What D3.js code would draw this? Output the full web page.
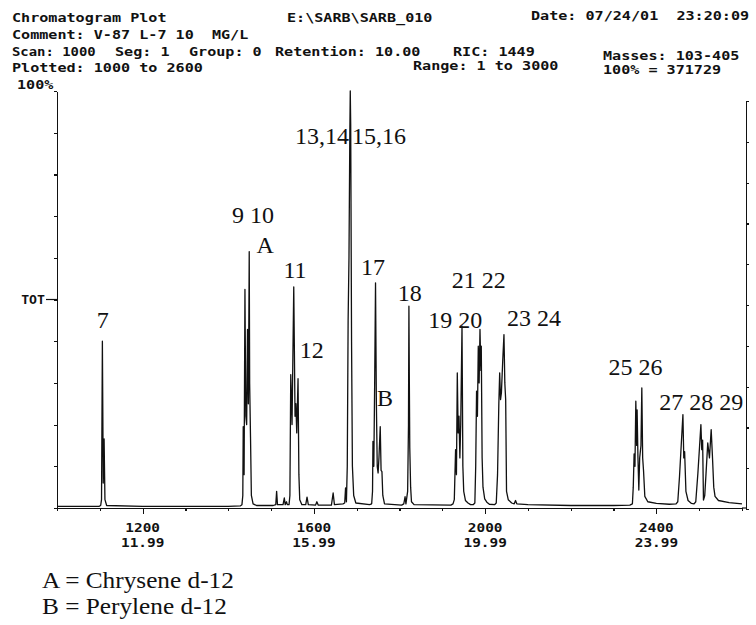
<!DOCTYPE html>
<html>
<head>
<meta charset="utf-8">
<script src="https://cdn.jsdelivr.net/npm/d3@7"></script>
<style>
body { margin: 0; background: #fff; }
.mono { font-family: "DejaVu Sans Mono", monospace; font-weight: bold; font-size: 12px; fill: #111; white-space: pre; }
.lbl { font-family: "Liberation Serif", "Times New Roman", serif; font-size: 24px; fill: #111; }
.axis path, .axis line { stroke: #111; stroke-width: 1.2; shape-rendering: crispEdges; }
</style>
</head>
<body>
<svg id="chart" width="756" height="625"></svg>
<script>
// Total ion trace: [scan number, % of full scale]
var trace = [
	[1000, 0.4], [1050, 0.4], [1098, 0.4],
	[1102, 0.6], [1104, 2], [1106, 40], [1108, 6], [1110, 16.6], [1112, 2], [1116, 0.6],
	[1200, 0.4], [1300, 0.4], [1400, 0.4], [1428, 0.5],
	[1432, 0.8], [1434, 3], [1435, 19.5], [1437, 8], [1439, 52.4], [1441, 22], [1443, 20],
	[1445, 42.8], [1447, 25], [1449, 61.5], [1450, 30], [1452, 17], [1454, 3], [1458, 1], [1466, 0.6],
	[1505, 0.6], [1511, 0.8], [1513, 4], [1515, 0.8],
	[1528, 0.8], [1531, 2.4], [1533, 0.8], [1536, 1.5], [1538, 0.8],
	[1542, 0.8], [1544, 3], [1546, 32], [1549, 20], [1553, 53], [1556, 22], [1558, 25], [1560, 18],
	[1563, 31], [1565, 8], [1567, 2], [1572, 0.8],
	[1581, 0.8], [1584, 2.6], [1587, 0.8],
	[1604, 0.7], [1607, 1.5], [1610, 0.7],
	[1641, 0.7], [1645, 3.6], [1648, 0.8],
	[1668, 1], [1672, 1.2], [1674, 4.8], [1676, 1.5],
	[1678, 10], [1680, 45], [1682, 60], [1684, 90], [1685, 100], [1686, 92], [1688, 40], [1690, 10], [1693, 3], [1698, 1.2],
	[1730, 0.8],
	[1735, 1], [1737, 4], [1738, 16], [1740, 10], [1742, 30], [1744, 54], [1746, 25], [1748, 10], [1750, 8.4],
	[1752, 12], [1755, 19.5], [1757, 9], [1759, 8.7], [1761, 3], [1765, 1],
	[1805, 0.7],
	[1810, 1], [1813, 2.7], [1815, 1], [1819, 4], [1821, 20], [1822, 48.4], [1823, 30], [1824, 14.5], [1826, 5], [1828, 1.5], [1834, 0.8],
	[1920, 0.7],
	[1925, 1], [1928, 2], [1931, 14], [1933, 8], [1935, 32.4], [1937, 18], [1939, 22], [1941, 12], [1943, 20],
	[1946, 43.6], [1948, 10], [1950, 4], [1954, 1.8], [1960, 1.2], [1966, 0.8],
	[1972, 0.8], [1976, 1.2], [1978, 10], [1980, 28], [1982, 22], [1984, 38.8], [1986, 30], [1988, 42.8], [1990, 33],
	[1991, 38.8], [1993, 12], [1995, 5], [1999, 2.2], [2004, 1.4], [2010, 0.9],
	[2022, 0.8], [2026, 1.2], [2029, 8], [2032, 25], [2034, 32.4], [2036, 26], [2038, 27.6], [2041, 35], [2044, 41.6],
	[2046, 30], [2048, 26], [2050, 4], [2054, 2], [2062, 1.2], [2068, 1], [2071, 1.8], [2074, 1],
	[2100, 0.8], [2200, 0.6], [2300, 0.6], [2338, 0.7],
	[2344, 1], [2346, 5], [2348, 13], [2350, 10], [2352, 25.6], [2354, 15], [2355, 23.5], [2357, 12], [2359, 4.3],
	[2361, 12], [2364, 15], [2366, 28.8], [2368, 12], [2370, 9], [2373, 2.8], [2380, 1.5], [2400, 1.1], [2430, 0.9],
	[2446, 1], [2450, 1.5], [2454, 7.5], [2458, 15], [2462, 22.4], [2464, 12], [2466, 13.5], [2469, 4], [2474, 1.8], [2482, 1.1],
	[2488, 1], [2492, 1.5], [2497, 8.4], [2501, 15], [2504, 20], [2506, 14], [2508, 16.3], [2510, 1.9], [2513, 3],
	[2516, 8.3], [2520, 15.6], [2524, 12], [2528, 18.8], [2531, 12.3], [2534, 5], [2537, 2.8], [2545, 1.8],
	[2570, 1.3], [2600, 1]
];

// Peak numbers written on the plot: [text, scan, %, anchor]
var peakLabels = [
	["7", 1107, 45.2, "middle"],
	["9 10", 1458, 70.4, "middle"],
	["A", 1486, 63.2, "middle"],
	["11", 1556, 57.2, "middle"],
	["12", 1595, 38, "middle"],
	["13,14", 1682, 89.4, "end"],
	["15,16", 1689, 89.4, "start"],
	["17", 1738, 58, "middle"],
	["B", 1766, 26.4, "middle"],
	["18", 1824, 51.7, "middle"],
	["19 20", 1930, 45.2, "middle"],
	["21 22", 1985, 54.8, "middle"],
	["23 24", 2114, 45.7, "middle"],
	["25 26", 2351, 33.9, "middle"],
	["27 28 29", 2505, 25.5, "middle"]
];

// Axis ticks
var minorTicks = d3.range(1000, 2601, 100);
var scanLabels = [1200, 1600, 2000, 2400];
var timeLabels = ["11.99", "15.99", "19.99", "23.99"];
var pctTicks = d3.range(0, 101, 10);

var legendLines = ["A = Chrysene d-12", "B = Perylene d-12"];

var svg = d3.select("#chart");

var x = d3.scaleLinear().domain([1000, 2600]).range([57, 742]);
var y = d3.scaleLinear().domain([0, 100]).range([508, 91]);
// the right frame edge has its own, slightly shorter ruler
var yRight = d3.scaleLinear().domain([0, 100]).range([509, 101]);

// Header of the printout (wide pixel font, so stretch it a bit):
function mono(text, px, py, sx) {
	svg.append("text")
		.attr("class", "mono")
		.attr("transform", "translate(" + px + "," + py + ") scale(" + (sx || 1.26) + ",1)")
		.text(text);
}
mono("Chromatogram Plot", 12, 22);
mono("E:\\SARB\\SARB_010", 287, 22);
mono("Date: 07/24/01  23:20:09", 531, 20);
mono("Comment: V-87 L-7 10  MG/L", 12, 39);
mono("Scan: 1000", 12, 56, 1.16);
mono("Seg: 1", 115, 56);
mono("Group: 0", 189, 56);
mono("Retention: 10.00", 275, 56);
mono("RIC: 1449", 453, 56);
mono("Masses: 103-405", 603, 60);
mono("Plotted: 1000 to 2600", 12, 72);
mono("Range: 1 to 3000", 413, 70);
mono("100% = 371729", 603, 74);
mono("100%", 17, 89);

// Axes
svg.append("g")
	.attr("class", "axis")
	.attr("transform", "translate(57,0)")
	.call(d3.axisLeft(y).tickValues(pctTicks).tickSize(3).tickSizeOuter(0).tickFormat(""));

svg.append("g")
	.attr("class", "axis")
	.attr("transform", "translate(746,0)")
	.call(d3.axisRight(yRight).tickValues(pctTicks).tickSize(3).tickSizeOuter(0).tickFormat(""));

svg.append("g")
	.attr("class", "axis")
	.attr("transform", "translate(0," + y(0) + ")")
	.call(d3.axisBottom(x).tickValues(minorTicks).tickSize(3).tickSizeOuter(0).tickFormat(""));

svg.append("g")
	.attr("class", "axis")
	.attr("transform", "translate(0," + y(0) + ")")
	.call(d3.axisBottom(x).tickValues(scanLabels).tickSize(6).tickSizeOuter(0).tickFormat(""));

// the bottom frame line runs on to the right edge
svg.append("line")
	.attr("x1", x(2600)).attr("x2", 746)
	.attr("y1", y(0)).attr("y2", y(0))
	.attr("stroke", "#111").attr("stroke-width", 1.2);

// "TOT" marker at half scale
svg.append("line")
	.attr("x1", 46).attr("x2", 57)
	.attr("y1", y(50)).attr("y2", y(50))
	.attr("stroke", "#111").attr("stroke-width", 1.2);
svg.append("text")
	.attr("class", "mono")
	.attr("text-anchor", "end")
	.attr("transform", "translate(45," + (y(50) + 4) + ") scale(1.1,1)")
	.text("TOT");

// Scan / time labels under the axis:
scanLabels.forEach(function(s, i) {
	svg.append("text")
		.attr("class", "mono")
		.attr("text-anchor", "middle")
		.attr("transform", "translate(" + x(s) + "," + (y(0) + 24) + ") scale(1.2,1)")
		.text(s);
	svg.append("text")
		.attr("class", "mono")
		.attr("text-anchor", "middle")
		.attr("transform", "translate(" + x(s) + "," + (y(0) + 39) + ") scale(1.2,1)")
		.text(timeLabels[i]);
});

// The chromatogram itself:
var line = d3.line()
	.x(function(d) { return x(d[0]); })
	.y(function(d) { return y(d[1]); });

svg.append("path")
	.datum(trace)
	.attr("d", line)
	.attr("fill", "none")
	.attr("stroke", "#111")
	.attr("stroke-width", 1.3)
	.attr("stroke-linejoin", "round");

// Peak numbers:
svg.selectAll("text.peak")
	.data(peakLabels)
	.enter().append("text")
	.attr("class", "lbl peak")
	.attr("x", function(d) { return x(d[1]); })
	.attr("y", function(d) { return y(d[2]); })
	.attr("dy", "0.35em")
	.attr("text-anchor", function(d) { return d[3]; })
	.text(function(d) { return d[0]; });

// Legend for the internal standards (slightly wide scanned type):
svg.selectAll("text.legend")
	.data(legendLines)
	.enter().append("text")
	.attr("class", "lbl legend")
	.style("font-size", "23px")
	.attr("transform", function(d, i) {
		return "translate(42," + (588 + i * 26) + ") scale(1.1,1)";
	})
	.text(function(d) { return d; });
</script>
</body>
</html>
